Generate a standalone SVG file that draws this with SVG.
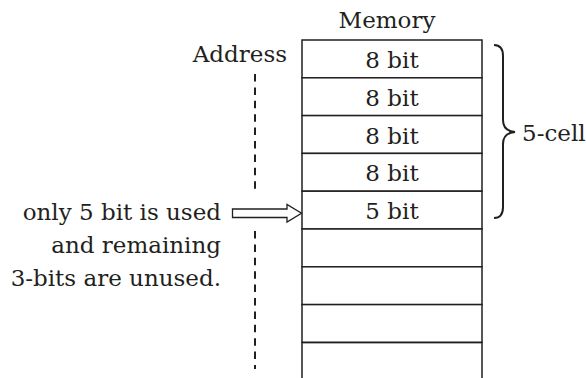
<svg xmlns="http://www.w3.org/2000/svg" width="586" height="378" viewBox="0 0 586 378">
<style>
text{font-family:"DejaVu Serif","Liberation Serif",serif;font-size:23px;fill:#231f20}
.mid{text-anchor:middle}
.end{text-anchor:end}
.cell{fill:#fff;stroke:#231f20;stroke-width:1.5}
.dash{fill:none;stroke:#231f20;stroke-width:2;stroke-dasharray:7.5 5.9}
</style>
<rect width="586" height="378" fill="#fff"/>
<text id="title" class="mid" x="387" y="28">Memory</text>
<text id="address" class="end" x="287" y="62">Address</text>
<g id="memory">
<g id="cell1"><rect class="cell" x="302" y="40" width="180" height="37.8"/><text class="mid" x="392" y="68">8 bit</text></g>
<g id="cell2"><rect class="cell" x="302" y="77.8" width="180" height="37.8"/><text class="mid" x="392" y="105.8">8 bit</text></g>
<g id="cell3"><rect class="cell" x="302" y="115.6" width="180" height="37.8"/><text class="mid" x="392" y="143.6">8 bit</text></g>
<g id="cell4"><rect class="cell" x="302" y="153.4" width="180" height="37.8"/><text class="mid" x="392" y="181.4">8 bit</text></g>
<g id="cell5"><rect class="cell" x="302" y="191.2" width="180" height="37.8"/><text class="mid" x="392" y="219.2">5 bit</text></g>
<g id="cell6"><rect class="cell" x="302" y="229" width="180" height="37.8"/></g>
<g id="cell7"><rect class="cell" x="302" y="266.8" width="180" height="37.8"/></g>
<g id="cell8"><rect class="cell" x="302" y="304.6" width="180" height="37.8"/></g>
<g id="cell9"><path d="M302,379 V342.4 H482 V379" fill="none" stroke="#231f20" stroke-width="1.5"/></g>
</g>
<g id="brace">
<path d="M494,45 Q503,45 503,56 L503,120 Q503,131 515,132 Q503,133 503,144 L503,207 Q503,218 494,218" fill="none" stroke="#231f20" stroke-width="2"/>
<text x="522" y="141">5-cell</text>
</g>
<g id="note">
<text class="end" x="221" y="220">only 5 bit is used</text>
<text class="end" x="221" y="253">and remaining</text>
<text class="end" x="221" y="286">3-bits are unused.</text>
</g>
<g id="connectors">
<line class="dash" x1="255" y1="74" x2="255" y2="189"/>
<line class="dash" x1="255" y1="231" x2="255" y2="369"/>
<polygon points="232.5,209 287,209 287,204.5 301.5,213.3 287,222 287,217.5 232.5,217.5" fill="#fff" stroke="#231f20" stroke-width="1.3"/>
</g>
</svg>
